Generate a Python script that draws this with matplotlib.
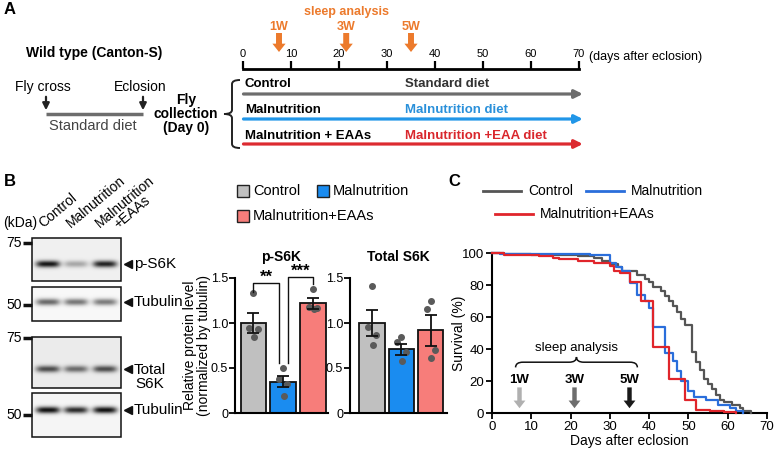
import numpy as np
import matplotlib.pyplot as plt
from matplotlib.path import Path
from matplotlib.patches import PathPatch, Rectangle

plt.rcParams['font.family'] = ['Liberation Sans', 'DejaVu Sans']

# ---------------- data ----------------
# panel A: timeline
timeline_ticks = [0, 10, 20, 30, 40, 50, 60, 70]
sleep_days = [7.5, 21.5, 35]
sleep_labels = ['1W', '3W', '5W']
group_labels = ['Control', 'Malnutrition', 'Malnutrition + EAAs']
diet_labels = ['Standard diet', 'Malnutrition diet', 'Malnutrition +EAA diet']

# panel B: western blot (relative band darkness per lane)
lane_labels = ['Control', 'Malnutrition', 'Malnutrition']
lane_sublabels = ['', '', '+EAAs']
band_ps6k = [0.85, 0.28, 0.80]
band_tub1 = [0.55, 0.50, 0.48]
band_total = [0.62, 0.50, 0.62]
band_tub2 = [0.88, 0.78, 0.88]

# panel B: quantification
bar_labels = ['Control', 'Malnutrition', 'Malnutrition+EAAs']
ps6k_mean = [1.00, 0.35, 1.22]
ps6k_sem = [0.11, 0.06, 0.06]
ps6k_points = [[1.33, 0.95, 0.93, 0.84], [0.50, 0.38, 0.32, 0.19], [1.38, 1.18, 1.17, 1.16]]
total_mean = [1.00, 0.71, 0.92]
total_sem = [0.14, 0.06, 0.17]
total_points = [[1.41, 0.96, 0.87, 0.76], [0.84, 0.79, 0.68, 0.58], [1.25, 1.16, 0.70, 0.61]]

# panel C: survival
ctrl_days = [0, 3, 10, 22, 26, 28, 30, 32, 33, 37, 39, 40, 41, 43, 44, 45, 46, 47, 48, 49, 51,
             52, 53, 54, 55, 56, 57, 58, 59, 61, 63, 64, 66]
ctrl_surv = [100, 99.5, 99, 98, 97, 95, 93, 91, 89, 86, 84, 82, 79, 76, 73, 70, 67, 63, 59, 55, 38,
             32, 27, 21, 18, 15, 11, 8, 7, 5, 3, 1, 0]
mal_days = [0, 2, 25, 27, 30, 31.5, 33, 35, 37, 39, 40, 41, 44, 46, 47, 48, 50, 51.5, 54.5,
            57.5, 60.5, 62, 64]
mal_surv = [100, 99.5, 99, 98.5, 94, 91.5, 88.5, 81.5, 74, 70, 65.5, 53.5, 37.5, 32.5, 26, 20,
            13.5, 10, 8, 5, 3, 1.5, 0]
eaa_days = [0, 3, 12, 15.5, 17, 22, 26, 30, 31, 32.5, 35, 38, 41, 45, 49, 52, 55.5, 59, 62]
eaa_surv = [100, 99, 98, 97, 96, 95, 94, 92, 89, 87.5, 82, 70, 41.5, 21, 8, 2, 1, 0.5, 0]
week_days = [7, 21, 35]

bar_colors = ['#c0c0c0', '#1a8cf0', '#f77d7a']
line_colors = ['#555555', '#2a6edb', '#e0252b']
diet_colors = ['#6d6d6d', '#2196e8', '#dc2a30']
diet_text_colors = ['#333333', '#2a90da', '#d9272d']
week_colors = ['#b0b0b0', '#6e6e6e', '#1a1a1a']
orange = '#ec7a2c'

W, H = 778, 451


def rect(x0, y0, x1, y1):
    return [x0 / W, 1 - y1 / H, (x1 - x0) / W, (y1 - y0) / H]


def brace(ax, a0, a1, base, depth, vertical=False, **kw):
    m = (a0 + a1) / 2
    r = (a1 - a0) * 0.06
    h = base + depth / 2
    pts = [(a0, base), (a0, h), (a0 + r, h), (m - r, h), (m, h), (m, base + depth),
           (m, h), (m + r, h), (a1 - r, h), (a1, h), (a1, base)]
    codes = [Path.MOVETO, Path.CURVE3, Path.CURVE3, Path.LINETO, Path.CURVE3, Path.CURVE3,
             Path.CURVE3, Path.CURVE3, Path.LINETO, Path.CURVE3, Path.CURVE3]
    if vertical:
        pts = [(b, a) for a, b in pts]
    ax.add_patch(PathPatch(Path(pts, codes), fill=False, clip_on=False, **kw))


fig = plt.figure(figsize=(W / 100, H / 100), dpi=100)
ov = fig.add_axes([0, 0, 1, 1])
ov.axis('off')

# panel letters
for letter, x, y in [('A', 4, 9), ('B', 4, 181), ('C', 448, 182)]:
    ov.text(x, y, letter, fontsize=12, fontweight='bold', va='center')

# ---------------- panel A (left part) ----------------
ov.text(26, 53, 'Wild type (Canton-S)', fontsize=10, fontweight='bold', va='center')
ov.text(43, 87, 'Fly cross', fontsize=10, ha='center', va='center')
ov.text(140, 87, 'Eclosion', fontsize=10, ha='center', va='center')
for x in [46, 143]:
    ov.annotate('', xy=(x, 113), xytext=(x, 94),
                arrowprops=dict(arrowstyle='-|>', lw=1.6, color='#222222', mutation_scale=10))
ov.plot([46, 143], [114, 114], color='#6d6d6d', lw=2.5, solid_capstyle='butt')
ov.text(93, 126, 'Standard diet', fontsize=10.5, ha='center', va='center', color='#444444')
ov.text(186, 114, 'Fly\ncollection\n(Day 0)', fontsize=10, fontweight='bold',
        ha='center', va='center', linespacing=1.0)
brace(ov, 80, 148, 240, -16, vertical=True, color='#222222', lw=1.4)

# ---------------- panel A (timeline) ----------------
axt = fig.add_axes(rect(243, 69, 579, 150))
axt.set_xlim(0, 70)
axt.set_ylim(150, 69)
axt.patch.set_alpha(0)
for s in ['bottom', 'left', 'right']:
    axt.spines[s].set_visible(False)
axt.spines['top'].set_linewidth(2)
axt.xaxis.tick_top()
axt.set_xticks(timeline_ticks)
axt.tick_params(axis='x', direction='out', length=6, width=1.6, labelsize=8, pad=1)
axt.set_yticks([])
axt.text(72, 57, '(days after eclosion)', fontsize=9, va='center')

axt.text(21.5, 11.5, 'sleep analysis', color=orange, fontsize=9, fontweight='bold',
         ha='center', va='center')
for d, lab in zip(sleep_days, sleep_labels):
    axt.text(d, 26.5, lab, color=orange, fontsize=9, fontweight='bold', ha='center', va='center')
    axt.annotate('', xy=(d, 52), xytext=(d, 33), annotation_clip=False,
                 arrowprops=dict(width=4.3, headwidth=9.5, headlength=6, color=orange, lw=0))

for i, (g, dl) in enumerate(zip(group_labels, diet_labels)):
    ty = 84 + i * 26
    ay = 94 + i * 25
    axt.text(0.4, ty, g, fontsize=9.5, fontweight='bold', va='center')
    axt.text(33.8, ty, dl, fontsize=9.5, fontweight='bold', va='center', color=diet_text_colors[i])
    axt.annotate('', xy=(70.8, ay), xytext=(0.1, ay), annotation_clip=False,
                 arrowprops=dict(arrowstyle='-|>', lw=2.3, color=diet_colors[i],
                                 mutation_scale=12, shrinkA=0, shrinkB=0))

# ---------------- panel B (western blot) ----------------
lane_x = [48, 76, 105]
blots = [((32, 238, 121, 281), 264, band_ps6k, 0.06),
         ((32, 287, 121, 321), 302, band_tub1, 0.03),
         ((32, 337, 121, 388), 369, band_total, 0.08),
         ((32, 393, 121, 437), 410, band_tub2, 0.04)]
for (x0, y0, x1, y1), cy, levels, bg in blots:
    xs = np.arange(x0, x1) + 0.5
    ys = np.arange(y0, y1) + 0.5
    X, Y = np.meshgrid(xs, ys)
    img = np.full(X.shape, bg)
    for cx, lv in zip(lane_x, levels):
        img += lv * np.exp(-((X - cx) / 12.0) ** 4) * np.exp(-((Y - cy) / 3.4) ** 2)
    ov.imshow(img, cmap='gray_r', vmin=0, vmax=1, extent=(x0, x1, y1, y0),
              interpolation='bilinear', aspect='auto', zorder=1)
    ov.add_patch(Rectangle((x0, y0), x1 - x0, y1 - y0, fill=False, lw=1.1,
                           edgecolor='#111111', zorder=2))
ov.set_xlim(0, W)
ov.set_ylim(H, 0)

for lx, lab, sub in zip(lane_x, lane_labels, lane_sublabels):
    ov.text(lx - 5, 228, lab, rotation=40, rotation_mode='anchor', fontsize=10,
            ha='left', va='baseline')
    if sub:
        ov.text(lx + 13, 229, sub, rotation=40, rotation_mode='anchor', fontsize=10,
                ha='left', va='baseline')
ov.text(3, 223, '(kDa)', fontsize=10, va='center')
for lab, y in [('75', 243), ('50', 305), ('75', 338), ('50', 415)]:
    ov.text(22, y, lab, fontsize=10, ha='right', va='center')
    ov.plot([23, 32], [y, y], color='#111111', lw=2.5, solid_capstyle='butt')
for lab, y in [('p-S6K', 264), ('Tubulin', 302), ('Total\nS6K', 377), ('Tubulin', 410)]:
    my = 369 if lab.startswith('Total') else y
    ov.plot([128], [my], marker='<', color='#111111', markersize=5.5)
    ov.text(134, y, lab, fontsize=11, va='center', ha='left', multialignment='center',
            linespacing=1.0)

# bar legend
for (lx, ly), lab, c in zip([(237, 191), (317, 191), (237, 216)], bar_labels, bar_colors):
    ov.add_patch(Rectangle((lx, ly - 6), 12, 12, facecolor=c, edgecolor='#222222', lw=1))
    ov.text(lx + 16, ly, lab, fontsize=10.5, va='center')


def bar_panel(r, xlim, means, sems, points, title):
    ax = fig.add_axes(r)
    x = np.arange(3)
    ax.bar(x, means, width=0.86, color=bar_colors, edgecolor='#111111', linewidth=1.3, zorder=1)
    offsets = [0.0, -0.14, 0.14, 0.02]
    for i, pts in enumerate(points):
        ax.scatter([i + o for o in offsets], pts, s=16, color='#5a5a5a', zorder=2, clip_on=False)
    ax.errorbar(x, means, yerr=sems, fmt='none', ecolor='#111111', elinewidth=1.3,
                capsize=4, capthick=1.3, zorder=3)
    ax.set_xlim(*xlim)
    ax.set_ylim(0, 1.5)
    ax.set_yticks([0, 0.5, 1.0, 1.5])
    ax.set_yticklabels(['0', '0.5', '1.0', '1.5'])
    ax.set_xticks([])
    for s in ['top', 'right']:
        ax.spines[s].set_visible(False)
    for s in ['left', 'bottom']:
        ax.spines[s].set_linewidth(1.5)
    ax.tick_params(axis='y', direction='out', length=4, width=1.3, labelsize=9, pad=1)
    ax.set_title(title, fontsize=10, fontweight='bold', pad=12)
    ax.patch.set_alpha(0)
    return ax


ax1 = bar_panel(rect(235, 278, 328, 413), (-0.62, 2.5), ps6k_mean, ps6k_sem, ps6k_points, 'p-S6K')
ax1.set_ylabel('Relative protein level\n(normalized by tubulin)', fontsize=10, labelpad=0,
               linespacing=1.0)
ax2 = bar_panel(rect(350, 278, 447, 413), (-0.75, 2.55), total_mean, total_sem, total_points,
                'Total S6K')

# significance brackets
ax1.plot([0, 0, 0.85, 0.85], [1.35, 1.44, 1.44, 0.56], color='#111111', lw=1, clip_on=False)
ax1.text(0.43, 1.42, '**', fontsize=12, fontweight='bold', ha='center', va='bottom')
ax1.plot([1.15, 1.15, 2.0, 2.0], [0.56, 1.51, 1.51, 1.43], color='#111111', lw=1, clip_on=False)
ax1.text(1.57, 1.49, '***', fontsize=12, fontweight='bold', ha='center', va='bottom')

# ---------------- panel C (survival) ----------------
axc = fig.add_axes(rect(492, 253, 767, 413))
for d, s, c in zip([ctrl_days, mal_days, eaa_days], [ctrl_surv, mal_surv, eaa_surv], line_colors):
    axc.step(d, s, where='post', color=c, lw=1.6, clip_on=False, zorder=3)
axc.set_xlim(0, 70)
axc.set_ylim(0, 100)
axc.set_xticks(range(0, 71, 10))
axc.set_yticks(range(0, 101, 20))
for s in ['top', 'right']:
    axc.spines[s].set_visible(False)
for s in ['left', 'bottom']:
    axc.spines[s].set_linewidth(1.5)
axc.tick_params(direction='out', length=4, width=1.3, labelsize=9.5, pad=1.5)
axc.set_xlabel('Days after eclosion', fontsize=10, labelpad=1)
axc.set_ylabel('Survival (%)', fontsize=10, labelpad=-3)
axc.patch.set_alpha(0)

axc.text(21.4, 40.5, 'sleep analysis', fontsize=9.5, ha='center', va='center')
brace(axc, 6, 37, 28.5, 6.5, color='#111111', lw=1.1)
for d, lab, c in zip(week_days, sleep_labels, week_colors):
    axc.text(d, 20.5, lab, fontsize=9.5, fontweight='bold', ha='center', va='center')
    axc.annotate('', xy=(d, 3), xytext=(d, 16),
                 arrowprops=dict(width=3.2, headwidth=8.5, headlength=5.5, color=c, lw=0))

# survival legend
for (lx, ly), lab, c in zip([(483, 191), (586, 191), (495, 214)],
                            ['Control', 'Malnutrition', 'Malnutrition+EAAs'], line_colors):
    ov.plot([lx, lx + 38], [ly, ly], color=c, lw=2)
    ov.text(lx + 45, ly, lab, fontsize=10, va='center')

fig.savefig('out.png', dpi=100)
